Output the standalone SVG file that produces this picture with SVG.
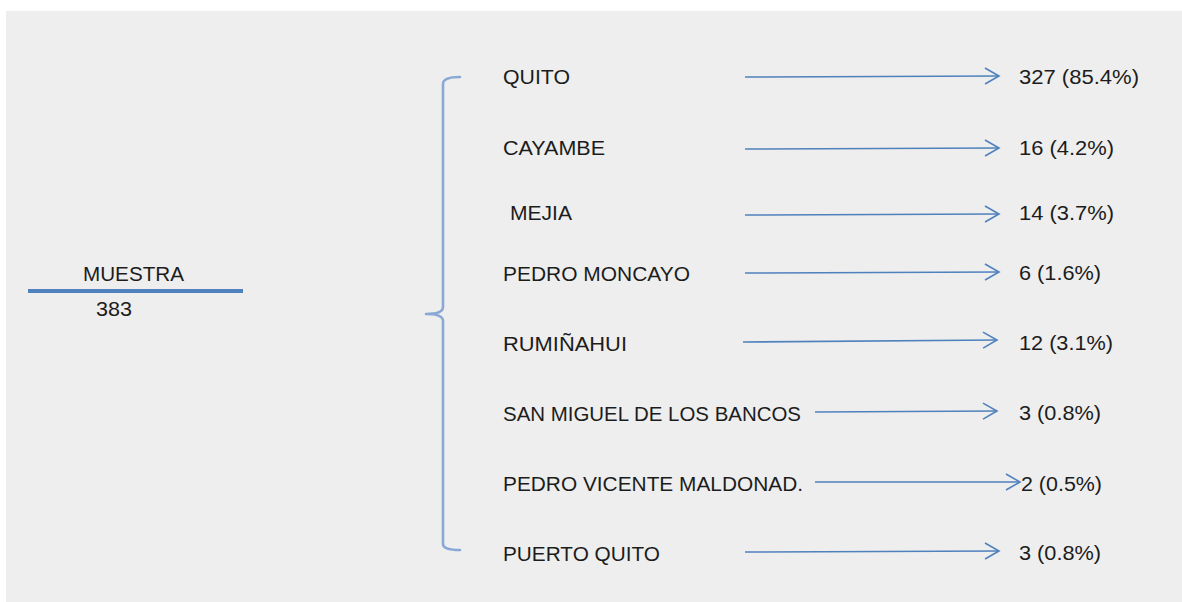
<svg xmlns="http://www.w3.org/2000/svg" width="1182" height="602" viewBox="0 0 1182 602">
  <style>
    .t { font-family: "Liberation Sans", Arial, sans-serif; font-size: 20.5px; fill: #1c1c1c; }
    .arr { stroke: #4f81bd; stroke-width: 1.6; fill: none; marker-end: url(#ah); }
    .br { stroke: #8aa8d6; stroke-width: 2.6; fill: none; stroke-linejoin: round; stroke-linecap: round; }
  </style>
  <defs>
    <marker id="ah" markerUnits="userSpaceOnUse" markerWidth="18" markerHeight="20" refX="15" refY="9" orient="auto">
      <path d="M1,1 L15,9 L1,17" fill="none" stroke="#4f81bd" stroke-width="1.6"/>
    </marker>
  </defs>
  <rect x="0" y="0" width="1182" height="602" fill="#ffffff"/>
  <rect x="6" y="11" width="1176" height="591" fill="#eeeeee"/>

  <g id="muestra">
    <text class="t" x="83" y="281" textLength="101" lengthAdjust="spacingAndGlyphs">MUESTRA</text>
    <line x1="28" y1="291" x2="243" y2="291" stroke="#4f81bd" stroke-width="4"/>
    <text class="t" x="96" y="316" textLength="36" lengthAdjust="spacingAndGlyphs">383</text>
  </g>

  <g id="bracket">
    <path class="br" d="M460,77 Q443,77 443,84 L443,307 Q443,314 426,314 Q443,314 443,321 L443,544 Q443,550 460,550"/>
  </g>

  <g id="quito"><text class="t" x="503" y="84" textLength="67" lengthAdjust="spacingAndGlyphs">QUITO</text></g>
  <g id="cayambe"><text class="t" x="503" y="155" textLength="102" lengthAdjust="spacingAndGlyphs">CAYAMBE</text></g>
  <g id="mejia"><text class="t" x="510" y="220" textLength="62" lengthAdjust="spacingAndGlyphs">MEJIA</text></g>
  <g id="pedro-moncayo"><text class="t" x="503" y="281" textLength="187" lengthAdjust="spacingAndGlyphs">PEDRO MONCAYO</text></g>
  <g id="ruminahui"><text class="t" x="503" y="351" textLength="124" lengthAdjust="spacingAndGlyphs">RUMIÑAHUI</text></g>
  <g id="san-miguel"><text class="t" x="503" y="421" textLength="298" lengthAdjust="spacingAndGlyphs">SAN MIGUEL DE LOS BANCOS</text></g>
  <g id="pedro-vicente"><text class="t" x="503" y="491" textLength="300" lengthAdjust="spacingAndGlyphs">PEDRO VICENTE MALDONAD.</text></g>
  <g id="puerto-quito"><text class="t" x="503" y="561" textLength="157" lengthAdjust="spacingAndGlyphs">PUERTO QUITO</text></g>

  <g id="v-quito"><text class="t" x="1019" y="84" textLength="120" lengthAdjust="spacingAndGlyphs">327 (85.4%)</text></g>
  <g id="v-cayambe"><text class="t" x="1019" y="155" textLength="95" lengthAdjust="spacingAndGlyphs">16 (4.2%)</text></g>
  <g id="v-mejia"><text class="t" x="1019" y="220" textLength="95" lengthAdjust="spacingAndGlyphs">14 (3.7%)</text></g>
  <g id="v-pedro-moncayo"><text class="t" x="1019" y="280" textLength="82" lengthAdjust="spacingAndGlyphs">6 (1.6%)</text></g>
  <g id="v-ruminahui"><text class="t" x="1019" y="350" textLength="94" lengthAdjust="spacingAndGlyphs">12 (3.1%)</text></g>
  <g id="v-san-miguel"><text class="t" x="1019" y="420" textLength="82" lengthAdjust="spacingAndGlyphs">3 (0.8%)</text></g>
  <g id="v-pedro-vicente"><text class="t" x="1021" y="491" textLength="81" lengthAdjust="spacingAndGlyphs">2 (0.5%)</text></g>
  <g id="v-puerto-quito"><text class="t" x="1019" y="560" textLength="82" lengthAdjust="spacingAndGlyphs">3 (0.8%)</text></g>

  <g id="connectors">
    <line class="arr" x1="745" y1="77" x2="999" y2="76"/>
    <line class="arr" x1="745" y1="149" x2="999" y2="148"/>
    <line class="arr" x1="745" y1="215" x2="999" y2="214"/>
    <line class="arr" x1="745" y1="273" x2="999" y2="272"/>
    <line class="arr" x1="743" y1="342" x2="997" y2="340"/>
    <line class="arr" x1="815" y1="412" x2="997" y2="411"/>
    <line class="arr" x1="815" y1="482" x2="1020" y2="482"/>
    <line class="arr" x1="745" y1="552" x2="999" y2="551"/>
  </g>
</svg>
